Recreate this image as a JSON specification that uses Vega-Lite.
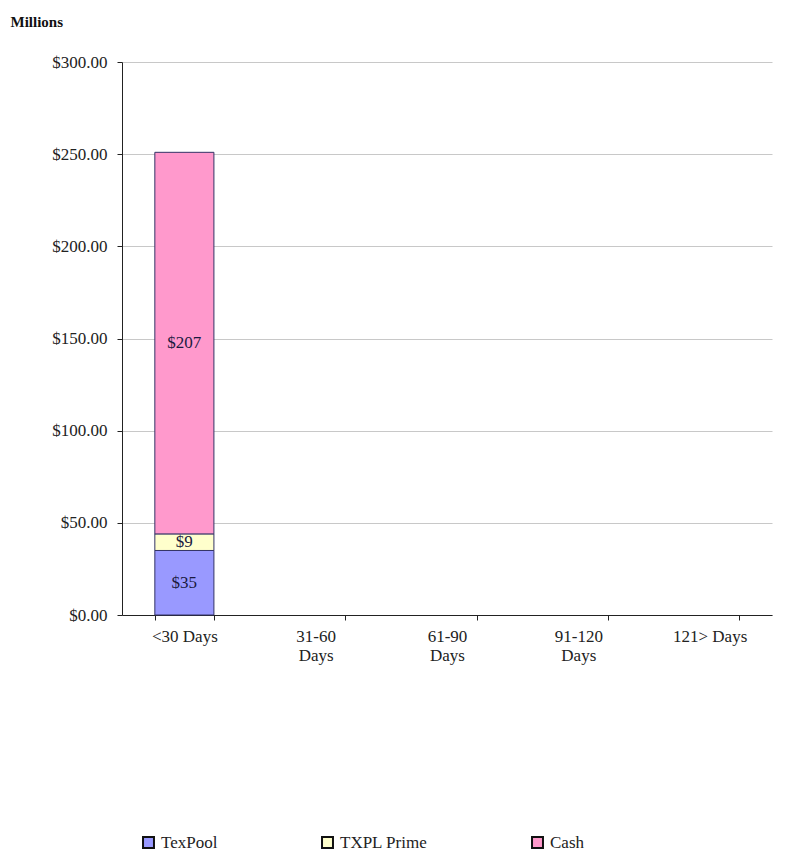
{
  "$schema": "https://vega.github.io/schema/vega-lite/v6.json",
  "width": 650,
  "height": 553,
  "padding": {"left": 10, "top": 14, "right": 5, "bottom": 5},
  "config": {
    "font": "Liberation Serif",
    "view": {"stroke": null},
    "style": {"guide-label": {"font": "Liberation Serif", "fontSize": 17, "fill": "#222"}},
    "axis": {"labelFont": "Liberation Serif", "titleFont": "Liberation Serif", "labelColor": "#222", "labelFontSize": 17},
    "legend": {"labelFont": "Liberation Serif", "labelFontSize": 17, "labelColor": "#222"}
  },
  "data": {
    "values": [
      {"category": "<30 Days", "series": "TexPool", "value": 35},
      {"category": "<30 Days", "series": "TXPL Prime", "value": 9},
      {"category": "<30 Days", "series": "Cash", "value": 207}
    ]
  },
  "transform": [
    {"stack": "value", "groupby": ["category"], "sort": [{"field": "series", "order": "descending"}], "as": ["v0", "v1"]},
    {"calculate": "(datum.v0 + datum.v1) / 2", "as": "mid"}
  ],
  "encoding": {
    "x": {
      "field": "category",
      "type": "nominal",
      "scale": {"domain": ["<30 Days", "31-60 Days", "61-90 Days", "91-120 Days", "121> Days"], "paddingInner": 0.55, "paddingOuter": 0.25},
      "axis": {
        "title": null,
        "labelAngle": 0,
        "labelPadding": 8,
        "labelExpr": "(datum.label == '<30 Days' || datum.label == '121> Days') ? datum.label : split(datum.label, ' ')",
        "domainColor": "#222",
        "tickColor": "#222",
        "tickBand": "extent"
      }
    }
  },
  "layer": [
    {
      "mark": {"type": "bar", "stroke": "#333366", "strokeWidth": 1},
      "encoding": {
        "y": {
          "field": "v0",
          "type": "quantitative",
          "scale": {"domain": [0, 300]},
          "axis": {
            "values": [0, 50, 100, 150, 200, 250, 300],
            "format": "$.2f",
            "title": "Millions",
            "titleAngle": 0,
            "titleAlign": "left",
            "titleBaseline": "top",
            "titleX": -112,
            "titleY": -48,
            "titleFontSize": 15,
            "titleFontWeight": "bold",
            "titleColor": "#111",
            "gridColor": "#c8c8c8",
            "domainColor": "#222",
            "tickColor": "#222",
            "labelPadding": 10
          }
        },
        "y2": {"field": "v1"},
        "color": {
          "field": "series",
          "type": "nominal",
          "scale": {"domain": ["TexPool", "TXPL Prime", "Cash"], "range": ["#9999FF", "#FFFFCC", "#FF99CC"]},
          "legend": {
            "title": null,
            "orient": "none",
            "legendX": 18,
            "legendY": 772,
            "direction": "horizontal",
            "columns": 3,
            "gridAlign": "none",
            "symbolType": "square",
            "symbolSize": 120,
            "symbolStrokeColor": "#111",
            "symbolStrokeWidth": 2,
            "labelFontSize": 17,
            "labelFont": "Liberation Serif",
            "labelColor": "#222",
            "columnPadding": 100
          }
        }
      }
    },
    {
      "mark": {"type": "text", "fontSize": 17, "color": "#1a1a40"},
      "encoding": {
        "y": {"field": "mid", "type": "quantitative"},
        "text": {"field": "value", "type": "quantitative", "format": "$.0f"}
      }
    }
  ]
}
